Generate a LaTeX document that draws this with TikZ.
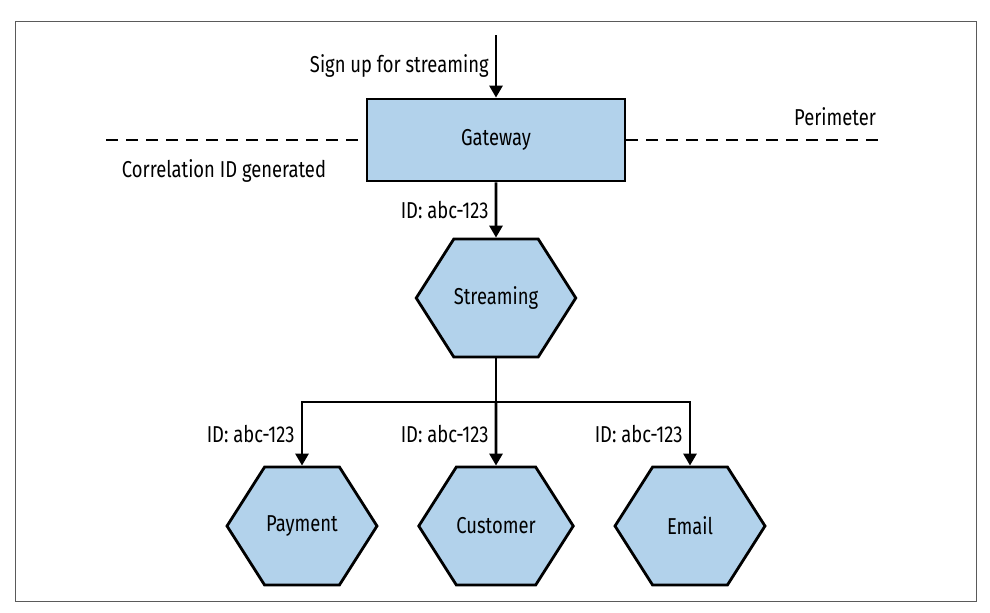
\documentclass[tikz,border=0pt]{standalone}
\usepackage{fontspec}
\setmainfont{Fira Sans}[FakeStretch=0.8]
\usetikzlibrary{arrows.meta,positioning,shapes.symbols}
\definecolor{svcblue}{RGB}{178,210,235}
\definecolor{framegray}{RGB}{90,90,90}
\tikzset{
	gatebox/.style={rectangle,draw,line width=1.4pt,fill=svcblue,minimum width=129pt,minimum height=41pt,font=\fontsize{11.5}{13}\selectfont},
	hexa/.style={signal,signal to=west and east,signal pointer angle=115,draw,line width=1.4pt,fill=svcblue,minimum width=75pt,minimum height=59pt,inner sep=0pt,font=\fontsize{11.5}{13}\selectfont},
	flow/.style={-{Triangle[width=6.5pt,length=6pt]},line width=1.4pt},
	edge/.style={line width=1.4pt},
	perim/.style={line width=1.4pt,dash pattern=on 6pt off 4pt},
	idlabel/.style={left,font=\fontsize{11.5}{13}\selectfont,inner sep=3pt}
}
\begin{document}
\begin{tikzpicture}[x=0.5pt,y=-0.5pt]
	\useasboundingbox (0,0) rectangle (990,612);
	\draw[framegray,line width=0.5pt] (15,21) rectangle (976,601);
	
	%%%% gateway and perimeter
	\coordinate (in) at (496,35);
	\node[gatebox] (gw) at (496,140) {Gateway};
	\coordinate (pl) at (106,140);
	\coordinate (pr) at (885,140);
	\draw[perim] (pl) -- (gw.west);
	\draw[perim] (gw.east) -- (pr);
	\node[font=\fontsize{11.5}{13}\selectfont] (corr) at (224,171) {Correlation ID generated};
	\node[font=\fontsize{11.5}{13}\selectfont] (perimlbl) at (835,117) {Perimeter};
	
	%%%% services
	\node[hexa] (strm) at (496,298) {Streaming};
	\node[hexa] (pay) at (302,526) {Payment};
	\node[hexa] (cust) at (496,526) {Customer};
	\node[hexa] (mail) at (690,526) {Email};
	\coordinate (bus) at (496,402);
	
	\draw[flow] (in) -- node[idlabel] {Sign up for streaming} (gw);
	\draw[flow] (gw) -- node[idlabel] {ID: abc-123} (strm);
	\draw[edge] (strm) -- (bus);
	\draw[flow] (bus) -| node[idlabel,pos=0.75] {ID: abc-123} (pay);
	\draw[flow] (bus) -- node[idlabel] {ID: abc-123} (cust);
	\draw[flow] (bus) -| node[idlabel,pos=0.75] {ID: abc-123} (mail);
\end{tikzpicture}
\end{document}
